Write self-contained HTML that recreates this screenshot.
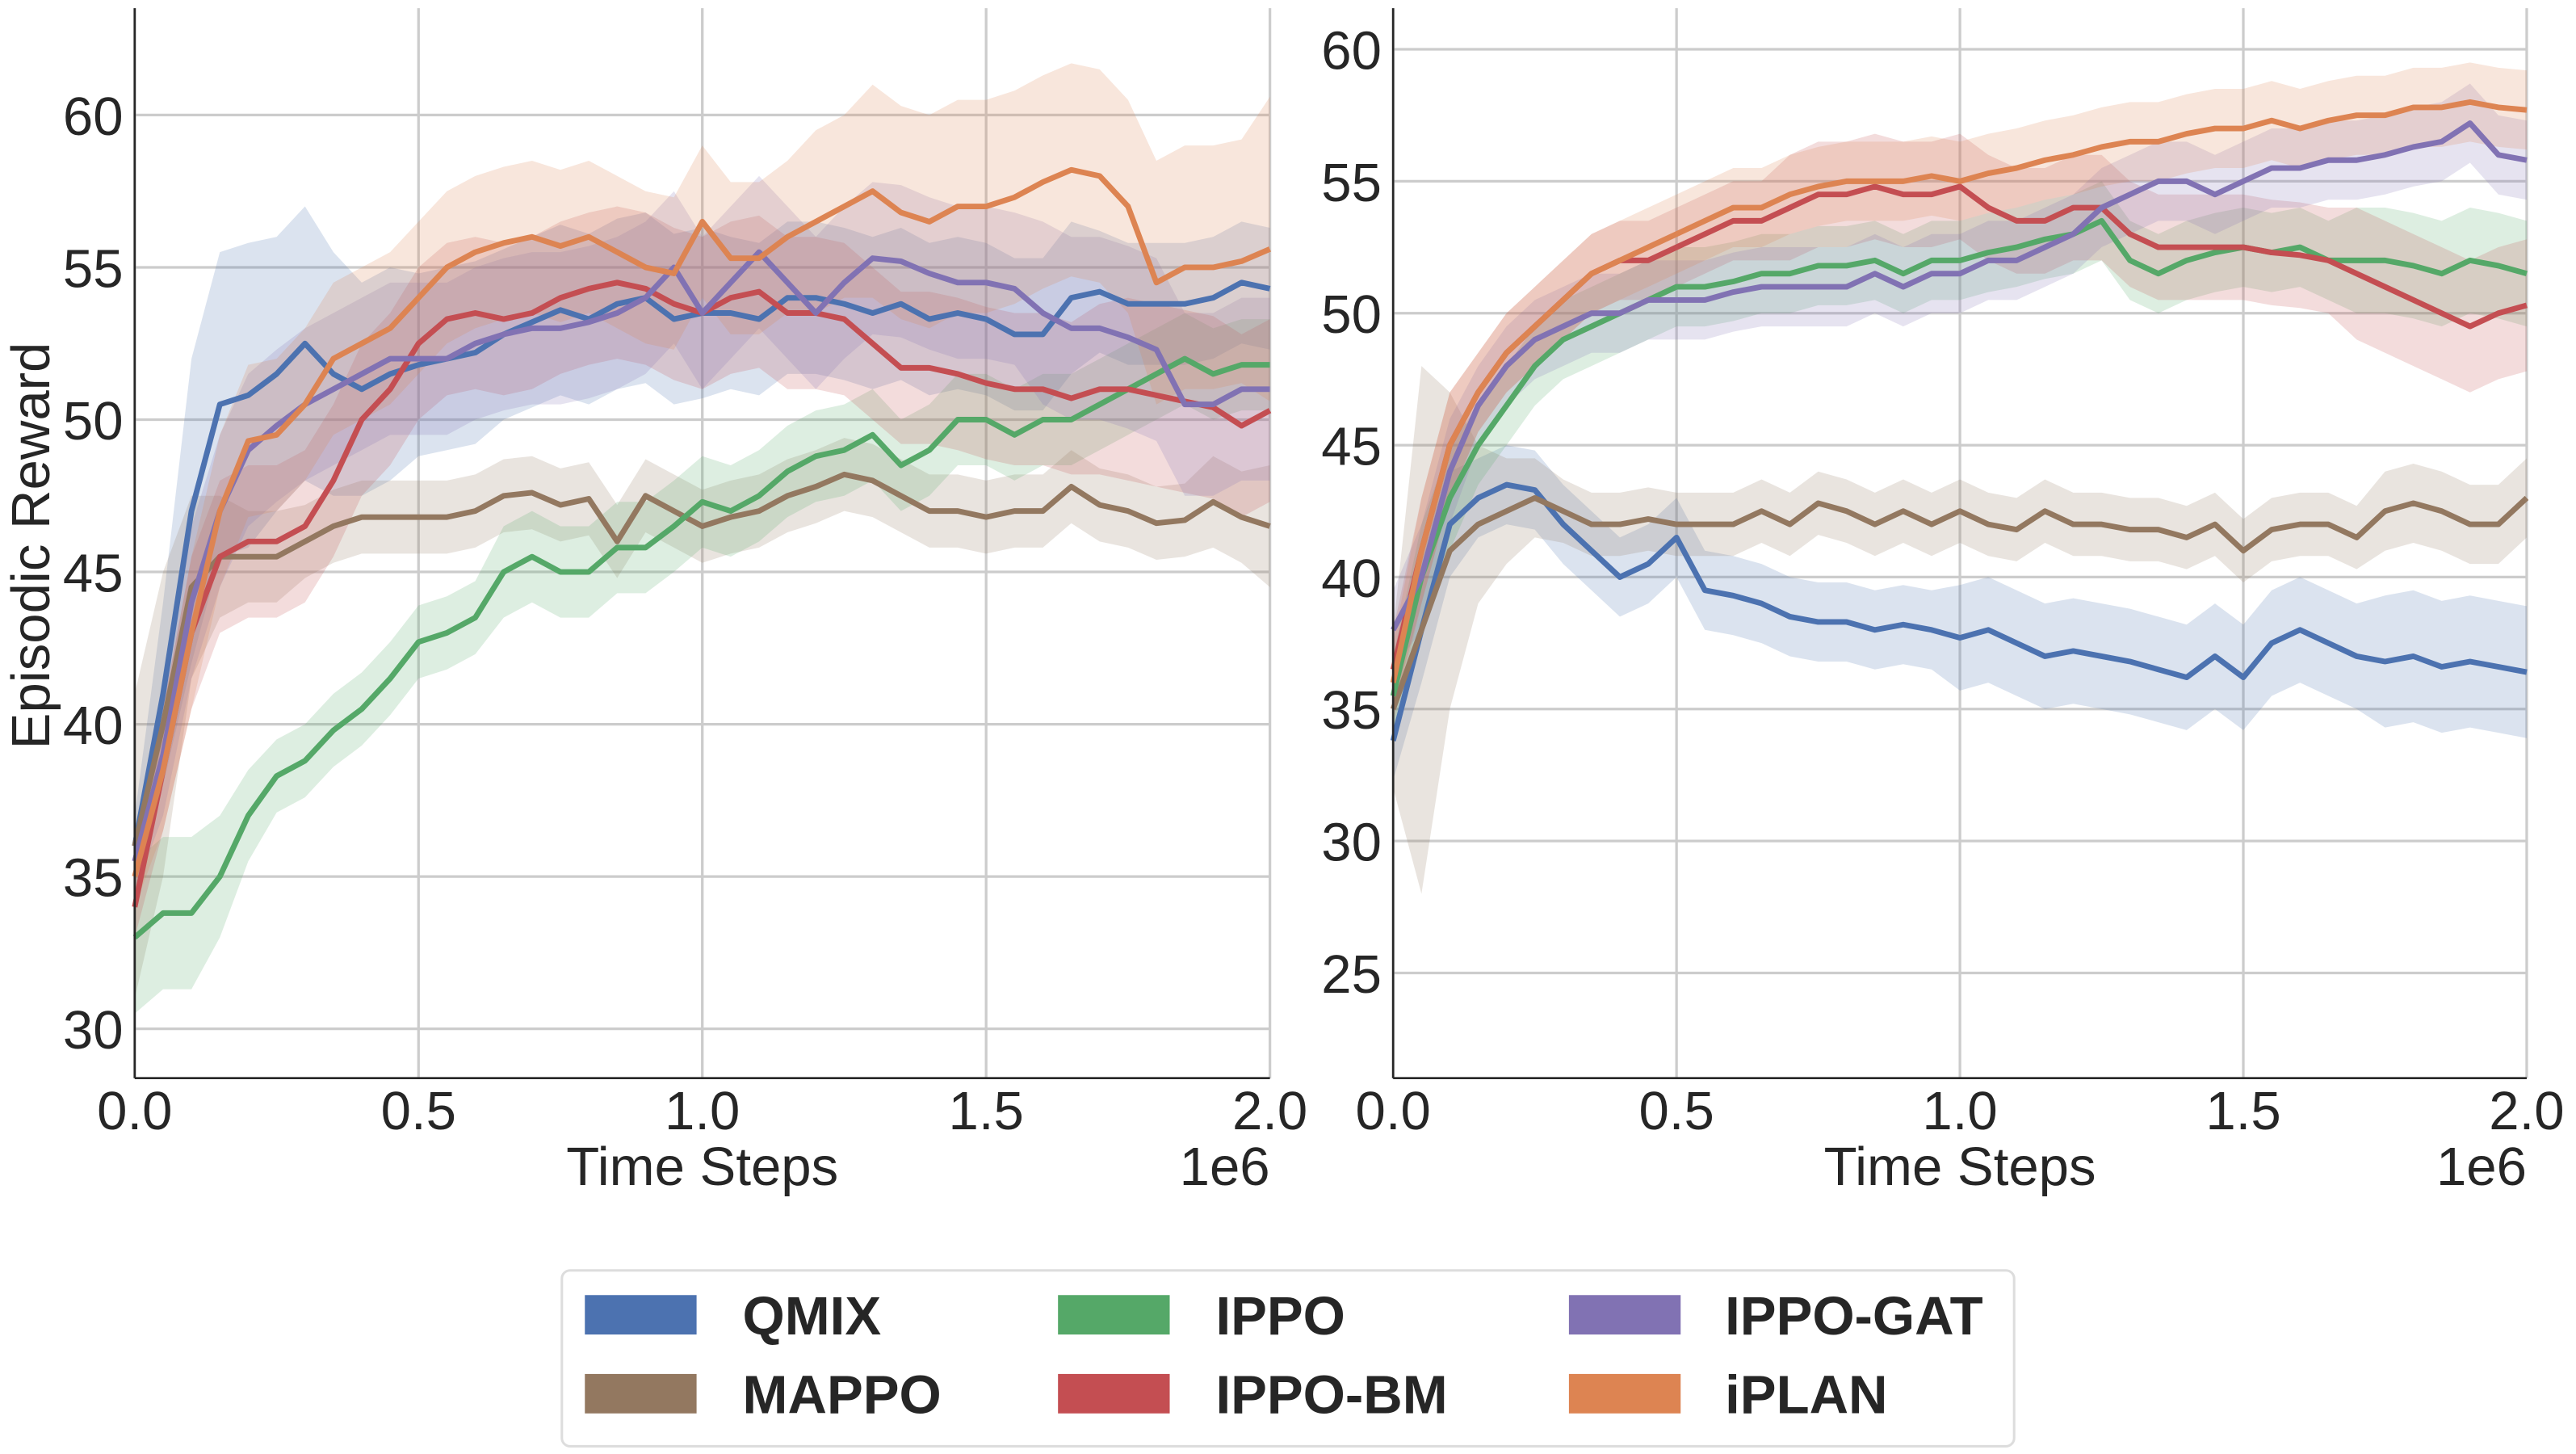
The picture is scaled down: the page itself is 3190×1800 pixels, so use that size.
<!DOCTYPE html>
<html><head><meta charset="utf-8"><style>
html,body{margin:0;padding:0;background:#fff;}
svg{display:block;font-family:"Liberation Sans",sans-serif;}
</style></head><body>
<svg id="chart" width="3190" height="1800" viewBox="0 0 1568 884.7" preserveAspectRatio="none" xmlns="http://www.w3.org/2000/svg">
<g id="panels"></g>
<g id="legend">
<rect x="342" y="773" width="884" height="107" rx="5" fill="#fff" stroke="#ddd" stroke-width="1.5"/>
<g><rect x="356" y="788" width="68" height="24" fill="#4c72b0"/><text x="452" y="812" font-size="33" font-weight="bold" fill="#262626">QMIX</text></g>
<g><rect x="356" y="836" width="68" height="24" fill="#937860"/><text x="452" y="860" font-size="33" font-weight="bold" fill="#262626">MAPPO</text></g>
<g><rect x="644" y="788" width="68" height="24" fill="#55a868"/><text x="740" y="812" font-size="33" font-weight="bold" fill="#262626">IPPO</text></g>
<g><rect x="644" y="836" width="68" height="24" fill="#c44e52"/><text x="740" y="860" font-size="33" font-weight="bold" fill="#262626">IPPO-BM</text></g>
<g><rect x="955" y="788" width="68" height="24" fill="#8172b3"/><text x="1050" y="812" font-size="33" font-weight="bold" fill="#262626">IPPO-GAT</text></g>
<g><rect x="955" y="836" width="68" height="24" fill="#dd8452"/><text x="1050" y="860" font-size="33" font-weight="bold" fill="#262626">iPLAN</text></g>
</g>
</svg>
<script>
const xTicks = [0, 0.5, 1.0, 1.5, 2.0];
const xTickLabels = ["0.0","0.5","1.0","1.5","2.0"];
const leftYTicks = [30,35,40,45,50,55,60];
const rightYTicks = [25,30,35,40,45,50,55,60];
const seriesNames = ["QMIX","MAPPO","IPPO","IPPO-BM","IPPO-GAT","iPLAN"];
const seriesColors = ["#4c72b0","#937860","#55a868","#c44e52","#8172b3","#dd8452"];
// left panel mean values, sampled every 0.05e6 steps
const L_qmix = [36,41,47,50.5,50.8,51.5,52.5,51.5,51,51.5,51.8,52,52.2,52.8,53.2,53.6,53.3,53.8,54,53.3,53.5,53.5,53.3,54,54,53.8,53.5,53.8,53.3,53.5,53.3,52.8,52.8,54,54.2,53.8,53.8,53.8,54,54.5,54.3];
const L_mappo = [36,40,44.5,45.5,45.5,45.5,46,46.5,46.8,46.8,46.8,46.8,47,47.5,47.6,47.2,47.4,46,47.5,47,46.5,46.8,47,47.5,47.8,48.2,48,47.5,47,47,46.8,47,47,47.8,47.2,47,46.6,46.7,47.3,46.8,46.5];
const L_ippo = [33,33.8,33.8,35,37,38.3,38.8,39.8,40.5,41.5,42.7,43,43.5,45,45.5,45,45,45.8,45.8,46.5,47.3,47,47.5,48.3,48.8,49,49.5,48.5,49,50,50,49.5,50,50,50.5,51,51.5,52,51.5,51.8,51.8];
const L_bm = [34,38.5,43,45.5,46,46,46.5,48,50,51,52.5,53.3,53.5,53.3,53.5,54,54.3,54.5,54.3,53.8,53.5,54,54.2,53.5,53.5,53.3,52.5,51.7,51.7,51.5,51.2,51,51,50.7,51,51,50.8,50.6,50.4,49.8,50.3];
const L_gat = [35.5,39,44,47,49,49.8,50.5,51,51.5,52,52,52,52.5,52.8,53,53,53.2,53.5,54,55,53.5,54.5,55.5,54.5,53.5,54.5,55.3,55.2,54.8,54.5,54.5,54.3,53.5,53,53,52.7,52.3,50.5,50.5,51,51];
const L_iplan = [35,38.5,43,47,49.3,49.5,50.5,52,52.5,53,54,55,55.5,55.8,56,55.7,56,55.5,55,54.8,56.5,55.3,55.3,56,56.5,57,57.5,56.8,56.5,57,57,57.3,57.8,58.2,58,57,54.5,55,55,55.2,55.6];
// left panel band half-widths
const L_qmix_sd = [1,3,5,5,5,4.5,4.5,4,3.5,3.5,3,3,3,2.8,2.8,2.8,2.8,2.8,2.8,2.8,2.8,2.5,2.5,2.5,2.5,2.5,2.5,2.5,2.5,2.5,2.5,2.5,2.5,2.5,2,2,2,2,2,2,2];
const L_mappo_sd = [5,5,3,2,1.5,1.5,1.2,1.2,1.2,1.2,1.2,1.2,1.2,1.2,1.2,1.2,1.2,1.2,1.2,1.2,1.2,1.2,1.2,1.2,1.2,1.2,1.2,1.2,1.2,1.2,1.2,1.2,1.2,1.2,1.2,1.2,1.2,1.2,1.5,1.5,2];
const L_ippo_sd = [2.5,2.5,2.5,2,1.5,1.2,1.2,1.2,1.2,1.2,1.2,1.2,1.2,1.5,1.5,1.5,1.5,1.5,1.5,1.5,1.5,1.5,1.5,1.5,1.5,1.5,1.5,1.5,1.5,1.5,1.5,1.5,1.5,1.5,1.5,1.5,1.5,1.5,1.5,1.5,1.5];
const L_bm_sd = [1,2,2.5,2.5,2.5,2.5,2.5,2.5,2.5,2.5,2.5,2.5,2.5,2.5,2.5,2.5,2.5,2.5,2.5,2.5,2.5,2.5,2.5,2.5,2.5,2.5,2.5,2.5,2.5,2.5,2.5,2.5,2.5,2.5,2.8,3,3,3,3,3,3];
const L_gat_sd = [1,2,2.5,2.5,2.5,2.5,2.5,2.5,2.5,2.5,2.5,2.5,2.5,2.5,2.5,2.5,2.5,2.5,2.5,2.5,2.5,2.5,2.5,2.5,2.5,2.5,2.5,2.5,2.5,2.5,2.5,2.5,3,3,3,3,3,3,3,3,3];
const L_iplan_sd = [1,2,2.5,2.5,2.5,2.5,2.5,2.5,2.5,2.5,2.5,2.5,2.5,2.5,2.5,2.5,2.5,2.5,2.5,2.5,2.5,2.5,2.5,2.5,3,3,3.5,3.5,3.5,3.5,3.5,3.5,3.5,3.5,3.5,3.5,4,4,4,4,5];
// right panel mean values
const R_qmix = [33.8,38,42,43,43.5,43.3,42,41,40,40.5,41.5,39.5,39.3,39,38.5,38.3,38.3,38,38.2,38,37.7,38,37.5,37,37.2,37,36.8,36.5,36.2,37,36.2,37.5,38,37.5,37,36.8,37,36.6,36.8,36.6,36.4];
const R_mappo = [35,38,41,42,42.5,43,42.5,42,42,42.2,42,42,42,42.5,42,42.8,42.5,42,42.5,42,42.5,42,41.8,42.5,42,42,41.8,41.8,41.5,42,41,41.8,42,42,41.5,42.5,42.8,42.5,42,42,43];
const R_ippo = [35.5,40,43,45,46.5,48,49,49.5,50,50.5,51,51,51.2,51.5,51.5,51.8,51.8,52,51.5,52,52,52.3,52.5,52.8,53,53.5,52,51.5,52,52.3,52.5,52.3,52.5,52,52,52,51.8,51.5,52,51.8,51.5];
const R_bm = [36.5,41,45,47,48.5,49.5,50.5,51.5,52,52,52.5,53,53.5,53.5,54,54.5,54.5,54.8,54.5,54.5,54.8,54,53.5,53.5,54,54,53,52.5,52.5,52.5,52.5,52.3,52.2,52,51.5,51,50.5,50,49.5,50,50.3];
const R_gat = [38,40,44,46.5,48,49,49.5,50,50,50.5,50.5,50.5,50.8,51,51,51,51,51.5,51,51.5,51.5,52,52,52.5,53,54,54.5,55,55,54.5,55,55.5,55.5,55.8,55.8,56,56.3,56.5,57.2,56,55.8];
const R_iplan = [36,41,45,47,48.5,49.5,50.5,51.5,52,52.5,53,53.5,54,54,54.5,54.8,55,55,55,55.2,55,55.3,55.5,55.8,56,56.3,56.5,56.5,56.8,57,57,57.3,57,57.3,57.5,57.5,57.8,57.8,58,57.8,57.7];
const R_qmix_sd = [1.5,2,2,1.5,1.5,1.5,1.5,1.5,1.5,1.5,1.5,1.5,1.5,1.5,1.5,1.5,1.5,1.5,1.5,1.5,2,2,2,2,2,2,2,2,2,2,2,2,2,2,2,2.5,2.5,2.5,2.5,2.5,2.5];
const R_mappo_sd = [3,10,6,3,2,1.5,1.2,1.2,1.2,1.2,1.2,1.2,1.2,1.2,1.2,1.2,1.2,1.2,1.2,1.2,1.2,1.2,1.2,1.2,1.2,1.2,1.2,1.2,1.2,1.2,1.2,1.2,1.2,1.2,1.2,1.5,1.5,1.5,1.5,1.5,1.5];
const R_ippo_sd = [1.5,2,2,1.5,1.5,1.5,1.5,1.5,1.5,1.5,1.5,1.5,1.5,1.5,1.5,1.5,1.5,1.5,1.5,1.5,1.5,1.5,1.5,1.5,1.5,1.5,1.5,1.5,1.5,1.5,1.5,1.5,1.5,1.5,2,2,2,2,2,2,2];
const R_bm_sd = [1.5,2,2,1.5,1.5,1.5,1.5,1.5,1.5,1.5,1.5,1.5,1.5,1.5,2,2,2,2,2,2,2,2,2,2,2,2,2,2,2,2,2,2,2,2,2.5,2.5,2.5,2.5,2.5,2.5,2.5];
const R_gat_sd = [1.5,2,2,1.5,1.5,1.5,1.5,1.5,1.5,1.5,1.5,1.5,1.5,1.5,1.5,1.5,1.5,1.5,1.5,1.5,1.5,1.5,1.5,1.5,1.5,1.5,1.5,1.5,1.5,1.5,1.5,1.5,1.5,1.5,1.5,1.5,1.5,1.5,1.5,1.5,1.5];
const R_iplan_sd = [1.5,2,2,1.5,1.5,1.5,1.5,1.5,1.5,1.5,1.5,1.5,1.5,1.5,1.5,1.5,1.5,1.5,1.5,1.5,1.5,1.5,1.5,1.5,1.5,1.5,1.5,1.5,1.5,1.5,1.5,1.5,1.5,1.5,1.5,1.5,1.5,1.5,1.5,1.5,1.5];
const xStep = 0.05;

const NS = "http://www.w3.org/2000/svg";
function mk(tag, attrs, parent){const e=document.createElementNS(NS,tag);for(const k in attrs)e.setAttribute(k,attrs[k]);parent.appendChild(e);return e;}

function drawPanel(id, px0, px1, yv0, yp0, yv1, yp1, top, bottom, yTicks, means, sds, showYLabel){
  const root = document.getElementById('panels');
  const g = mk('g',{},root);
  
  
  const X = v => px0 + (v/2.0)*(px1-px0);
  const Y = v => yp0 + (v-yv0)*(yp1-yp0)/(yv1-yv0);
  const grid = mk('g',{stroke:'#cccccc','stroke-width':1.6},g);
  
  
  xTicks.forEach((t,i)=>{
    mk('line',{x1:X(t),x2:X(t),y1:top,y2:bottom},grid);
    const tx = mk('text',{x:X(t),y:bottom+31,'font-size':33,'text-anchor':'middle',fill:'#262626'},g);
    tx.textContent = xTickLabels[i];
    
    
  });
  yTicks.forEach(t=>{
    mk('line',{x1:px0,x2:px1,y1:Y(t),y2:Y(t)},grid);
    const ty = mk('text',{x:px0-7,y:Y(t)+12,'font-size':33,'text-anchor':'end',fill:'#262626'},g);
    ty.textContent = String(t);
    
    
  });
  for(let s=0;s<means.length;s++){
    const m=means[s], sd=sds[s];
    let up=[],lo=[];
    for(let i=0;i<m.length;i++){up.push(X(i*xStep)+','+Y(m[i]+sd[i]));lo.unshift(X(i*xStep)+','+Y(m[i]-sd[i]));}
    const band = mk('polygon',{points:up.concat(lo).join(' '),fill:seriesColors[s],'fill-opacity':0.2,stroke:'none'},g);
    
    
  }
  for(let s=0;s<means.length;s++){
    const m=means[s];
    const pts=m.map((v,i)=>X(i*xStep)+','+Y(v)).join(' ');
    const ln = mk('polyline',{points:pts,fill:'none',stroke:seriesColors[s],'stroke-width':3.4,'stroke-linejoin':'round'},g);
    
    
  }
  mk('line',{x1:px0,x2:px0,y1:top,y2:bottom,stroke:'#262626','stroke-width':1.3},g);
  mk('line',{x1:px0,x2:px1,y1:bottom,y2:bottom,stroke:'#262626','stroke-width':1.3},g);
  const xl = mk('text',{x:(px0+px1)/2,y:bottom+65,'font-size':33,'text-anchor':'middle',fill:'#262626'},g);
  xl.textContent='Time Steps';
  
  
  const ex = mk('text',{x:px1,y:bottom+65,'font-size':33,'text-anchor':'end',fill:'#262626'},g);
  ex.textContent='1e6';
  
  
  if(showYLabel){
    const yl = mk('text',{x:0,y:0,'font-size':33,'text-anchor':'middle',fill:'#262626',transform:'translate(30,332) rotate(-90)'},g);
    yl.textContent='Episodic Reward';
    
    
  }
}
drawPanel('left-panel',82,773,30,626,60,70,5,656,leftYTicks,
  [L_qmix,L_mappo,L_ippo,L_bm,L_gat,L_iplan],[L_qmix_sd,L_mappo_sd,L_ippo_sd,L_bm_sd,L_gat_sd,L_iplan_sd],true);
drawPanel('right-panel',848,1538,25,592,60,30,5,656,rightYTicks,
  [R_qmix,R_mappo,R_ippo,R_bm,R_gat,R_iplan],[R_qmix_sd,R_mappo_sd,R_ippo_sd,R_bm_sd,R_gat_sd,R_iplan_sd],false);
</script>
</body></html>
